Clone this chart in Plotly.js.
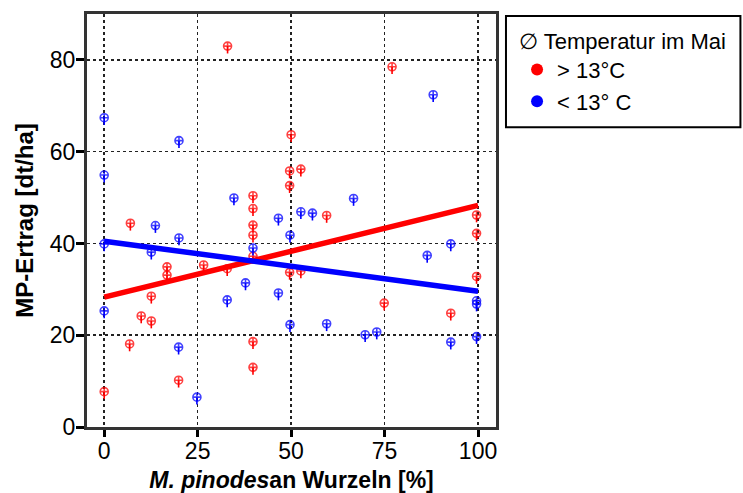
<!DOCTYPE html>
<html>
<head>
<meta charset="utf-8">
<script src="https://cdn.plot.ly/plotly-3.0.1.min.js"></script>
<style>html,body{margin:0;padding:0;background:#fff;}#chart{width:743px;height:493px;}</style>
</head>
<body>
<div id="chart"></div>
<script>
// > 13°C group (red)
var redX = [33, 50, 77, 7, 16.8, 16.8, 26.6, 49.6, 52.6, 49.6, 39.8, 39.8, 59.5, 39.8, 39.8, 39.8, 49.6, 52.6, 32.9, 99.6, 99.6, 99.6, 12.6, 9.9, 12.6, 6.8, 19.9, 0, 39.8, 39.8, 74.9, 92.7];
var redY = [83, 63.7, 78.5, 44.4, 34.9, 33.1, 35.3, 55.8, 56.2, 52.6, 50.4, 47.6, 46.1, 44.0, 41.8, 37.2, 33.7, 34.0, 34.5, 46.2, 42.2, 32.8, 28.5, 24.2, 23.1, 18.1, 10.2, 7.7, 18.6, 13.0, 27.0, 24.8];
// < 13°C group (blue)
var blueX = [0, 20, 88, 0, 13.7, 20, 0, 12.6, 34.7, 46.6, 52.6, 55.7, 66.7, 49.7, 39.8, 37.8, 92.7, 86.4, 0, 19.9, 24.8, 32.9, 46.6, 49.7, 59.5, 69.8, 72.9, 92.7, 99.6, 99.6, 99.6];
var blueY = [67.4, 62.4, 72.4, 54.9, 43.9, 41.2, 39.9, 38.1, 49.9, 45.5, 46.9, 46.6, 49.8, 41.8, 39.0, 31.4, 39.9, 37.4, 25.3, 17.4, 6.5, 27.7, 29.2, 22.3, 22.5, 20.1, 20.7, 18.5, 19.7, 27.5, 26.8];
// regression lines
var fitX = [0, 100];
var redFitY = [28.3, 48.3];
var blueFitY = [40.5, 29.6];
// labels
var xTickVals = [0, 25, 50, 75, 100];
var yTickVals = [0, 20, 40, 60, 80];
var legendTitle = "∅ Temperatur im Mai";
var redName = "&gt; 13°C";
var blueName = "&lt; 13° C";
var xTitle = "<i>M. pinodes</i>an Wurzeln [%]";
var yTitle = "MP-Ertrag [dt/ha]";

function pts(x, y, color) {
  return {
    x: x, y: y, type: 'scatter', mode: 'markers', showlegend: false, hoverinfo: 'x+y',
    marker: {symbol: 'circle-cross-open', size: 8, color: color, opacity: 0.75, line: {width: 1.6, color: color}},
    error_y: {type: 'constant', symmetric: false, value: 0, valueminus: 1.6, width: 0, thickness: 1.6, color: color}
  };
}
var traces = [
  pts(redX, redY, '#ff0000'),
  pts(blueX, blueY, '#0000ff'),
  {x: fitX, y: redFitY, type: 'scatter', mode: 'lines', showlegend: false, line: {color: '#ff0000', width: 5.5}},
  {x: fitX, y: blueFitY, type: 'scatter', mode: 'lines', showlegend: false, line: {color: '#0000ff', width: 5.5}},
  {x: [null], y: [null], type: 'scatter', mode: 'markers', name: redName, marker: {symbol: 'circle', size: 15, color: '#ff0000'}},
  {x: [null], y: [null], type: 'scatter', mode: 'markers', name: blueName, marker: {symbol: 'circle', size: 15, color: '#0000ff'}}
];
var fam = 'Arial, "Liberation Sans", sans-serif';
var layout = {
  width: 743, height: 493,
  margin: {l: 87, r: 247, t: 14, b: 66},
  paper_bgcolor: '#fff', plot_bgcolor: '#fff',
  font: {family: fam, size: 22, color: '#000'},
  showlegend: true,
  xaxis: {
    range: [-4.6, 104.8], tickvals: xTickVals, ticktext: xTickVals.map(String),
    showgrid: true, gridcolor: '#222', griddash: 'dot', gridwidth: 1.5,
    zeroline: false, showline: true, mirror: true, linecolor: '#333', linewidth: 3,
    ticks: 'outside', ticklen: 7, tickwidth: 3, tickcolor: '#000', ticklabelstandoff: -6,
    tickfont: {family: fam, size: 23, color: '#000'},
    title: {text: xTitle, font: {family: fam, size: 23, color: '#000', weight: 'bold'}, standoff: 10}
  },
  yaxis: {
    range: [0, 90], tickvals: yTickVals, ticktext: yTickVals.map(String),
    showgrid: true, gridcolor: '#222', griddash: 'dot', gridwidth: 1.5,
    zeroline: false, showline: true, mirror: true, linecolor: '#333', linewidth: 3,
    ticks: 'outside', ticklen: 8, tickwidth: 3, tickcolor: '#000', ticklabelstandoff: -4,
    tickfont: {family: fam, size: 23, color: '#000'},
    title: {text: yTitle, font: {family: fam, size: 24, color: '#000', weight: 'bold'}, standoff: 10}
  },
  legend: {
    x: 1.0515, y: 0.985, xanchor: 'left', yanchor: 'top',
    bgcolor: 'rgba(0,0,0,0)', borderwidth: 0,
    title: {text: legendTitle, font: {family: fam, size: 22, color: '#000'}},
    font: {family: fam, size: 22, color: '#000'},
    itemsizing: 'constant', tracegroupgap: 0
  },
  shapes: [{
    type: 'rect', xref: 'paper', yref: 'paper', x0: 1.0244, x1: 1.5976, y0: 0.726, y1: 0.995,
    line: {color: '#000', width: 2}, fillcolor: 'rgba(0,0,0,0)', layer: 'above'
  }]
};
Plotly.newPlot('chart', traces, layout, {displayModeBar: false, staticPlot: true});
</script>
</body>
</html>
